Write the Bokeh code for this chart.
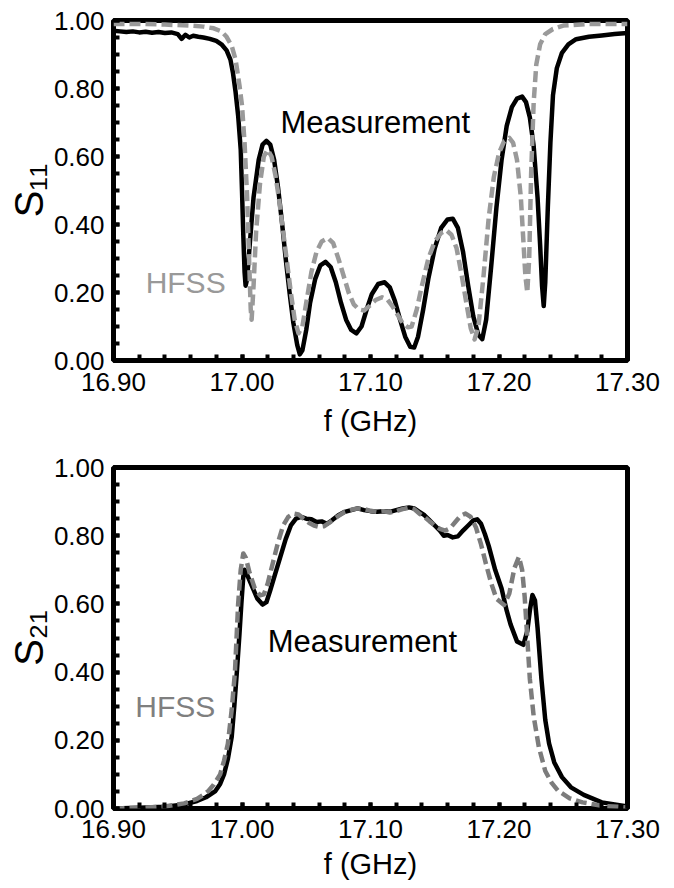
from bokeh.plotting import figure
from bokeh.layouts import column
from bokeh.models import Label, FixedTicker, PrintfTickFormatter, Range1d
from bokeh.embed import file_html
from bokeh.resources import INLINE

FONT = "Liberation Sans"

# ---------------- data ----------------
x_major = [16.90, 17.00, 17.10, 17.20, 17.30]
y_major = [0.0, 0.2, 0.4, 0.6, 0.8, 1.0]

s11_meas_f = [16.900, 16.905, 16.910, 16.915, 16.920, 16.925, 16.930, 16.935, 16.940, 16.945,
              16.950, 16.953, 16.956, 16.959, 16.962, 16.966, 16.970, 16.975, 16.980, 16.984,
              16.988, 16.991, 16.993, 16.995, 16.997, 16.999, 17.000, 17.001, 17.002, 17.0028,
              17.004, 17.006, 17.009, 17.013, 17.016, 17.019, 17.022, 17.025, 17.028, 17.031,
              17.034, 17.037, 17.040, 17.043, 17.045, 17.047, 17.050, 17.053, 17.057, 17.061,
              17.065, 17.069, 17.073, 17.077, 17.081, 17.085, 17.089, 17.093, 17.097, 17.101,
              17.106, 17.111, 17.115, 17.119, 17.123, 17.127, 17.131, 17.134, 17.137, 17.141,
              17.145, 17.150, 17.155, 17.160, 17.164, 17.168, 17.172, 17.176, 17.180, 17.184,
              17.187, 17.190, 17.194, 17.198, 17.202, 17.206, 17.210, 17.214, 17.218, 17.221,
              17.224, 17.227, 17.230, 17.232, 17.2335, 17.2348, 17.236, 17.238, 17.240, 17.242,
              17.245, 17.249, 17.254, 17.260, 17.270, 17.280, 17.290, 17.300]
s11_meas = [0.970, 0.968, 0.966, 0.968, 0.965, 0.967, 0.964, 0.966, 0.963, 0.965,
            0.960, 0.946, 0.958, 0.950, 0.955, 0.952, 0.950, 0.946, 0.940, 0.930,
            0.912, 0.885, 0.845, 0.790, 0.720, 0.620, 0.500, 0.370, 0.260, 0.220,
            0.240, 0.340, 0.480, 0.590, 0.635, 0.646, 0.635, 0.590, 0.510, 0.410,
            0.300, 0.200, 0.110, 0.045, 0.018, 0.030, 0.090, 0.170, 0.240, 0.280,
            0.290, 0.275, 0.230, 0.170, 0.120, 0.090, 0.080, 0.100, 0.150, 0.195,
            0.225, 0.230, 0.215, 0.175, 0.120, 0.070, 0.040, 0.038, 0.070, 0.150,
            0.240, 0.330, 0.390, 0.415, 0.417, 0.390, 0.320, 0.220, 0.130, 0.075,
            0.063, 0.120, 0.280, 0.450, 0.590, 0.690, 0.745, 0.770, 0.776, 0.760,
            0.715, 0.630, 0.480, 0.340, 0.220, 0.160, 0.230, 0.450, 0.640, 0.780,
            0.860, 0.905, 0.930, 0.945, 0.952, 0.956, 0.960, 0.963]

s11_hfss_f = [16.900, 16.920, 16.940, 16.960, 16.970, 16.978, 16.984, 16.988, 16.992, 16.995,
              16.998, 17.000, 17.002, 17.004, 17.0055, 17.0068, 17.0075, 17.009, 17.011, 17.014,
              17.017, 17.020, 17.023, 17.026, 17.029, 17.032, 17.035, 17.038, 17.041, 17.044,
              17.047, 17.050, 17.054, 17.058, 17.062, 17.067, 17.071, 17.075, 17.079, 17.083,
              17.087, 17.091, 17.095, 17.099, 17.104, 17.109, 17.113, 17.117, 17.121, 17.125,
              17.129, 17.132, 17.136, 17.140, 17.145, 17.150, 17.155, 17.159, 17.163, 17.167,
              17.171, 17.175, 17.178, 17.181, 17.184, 17.188, 17.192, 17.196, 17.200, 17.204,
              17.208, 17.211, 17.214, 17.217, 17.219, 17.2205, 17.222, 17.2235, 17.225, 17.227,
              17.229, 17.232, 17.236, 17.242, 17.250, 17.270, 17.300]
s11_hfss = [0.990, 0.990, 0.988, 0.985, 0.982, 0.977, 0.968, 0.952, 0.925, 0.885,
            0.810, 0.750, 0.640, 0.480, 0.300, 0.150, 0.120, 0.220, 0.380, 0.520,
            0.600, 0.620, 0.600, 0.545, 0.470, 0.380, 0.290, 0.200, 0.120, 0.080,
            0.100, 0.170, 0.260, 0.320, 0.350, 0.360, 0.345, 0.300, 0.250, 0.200,
            0.165, 0.150, 0.147, 0.160, 0.178, 0.186, 0.180, 0.160, 0.135, 0.110,
            0.098, 0.100, 0.150, 0.220, 0.300, 0.350, 0.375, 0.383, 0.370, 0.330,
            0.250, 0.160, 0.095, 0.062, 0.100, 0.250, 0.420, 0.540, 0.610, 0.645,
            0.655, 0.640, 0.590, 0.480, 0.350, 0.250, 0.200, 0.300, 0.550, 0.760,
            0.870, 0.930, 0.960, 0.975, 0.985, 0.990, 0.990]

s21_meas_f = [16.900, 16.920, 16.940, 16.955, 16.965, 16.972, 16.979, 16.983, 16.986, 16.989,
              16.992, 16.994, 16.996, 16.998, 16.9995, 17.001, 17.002, 17.004, 17.008, 17.012,
              17.016, 17.019, 17.022, 17.026, 17.030, 17.034, 17.038, 17.042, 17.046, 17.050,
              17.054, 17.058, 17.062, 17.066, 17.070, 17.075, 17.080, 17.085, 17.090, 17.095,
              17.100, 17.105, 17.110, 17.115, 17.120, 17.125, 17.130, 17.134, 17.138, 17.142,
              17.146, 17.150, 17.154, 17.157, 17.160, 17.164, 17.168, 17.172, 17.176, 17.180,
              17.183, 17.186, 17.189, 17.192, 17.197, 17.202, 17.206, 17.209, 17.214, 17.219,
              17.222, 17.224, 17.226, 17.228, 17.230, 17.233, 17.236, 17.239, 17.243, 17.249,
              17.256, 17.266, 17.280, 17.300]
s21_meas = [0.000, 0.002, 0.005, 0.012, 0.022, 0.033, 0.050, 0.072, 0.100, 0.145,
            0.210, 0.300, 0.400, 0.510, 0.600, 0.680, 0.700, 0.685, 0.650, 0.615,
            0.598, 0.605, 0.640, 0.690, 0.740, 0.790, 0.830, 0.850, 0.855, 0.850,
            0.848, 0.840, 0.842, 0.835, 0.845, 0.860, 0.870, 0.875, 0.880, 0.875,
            0.872, 0.870, 0.872, 0.870, 0.875, 0.880, 0.883, 0.880, 0.870, 0.860,
            0.845, 0.830, 0.815, 0.800, 0.802, 0.795, 0.798, 0.815, 0.830, 0.845,
            0.848, 0.835, 0.805, 0.770, 0.700, 0.645, 0.580, 0.540, 0.490, 0.480,
            0.520, 0.580, 0.626, 0.610, 0.530, 0.380, 0.260, 0.190, 0.135, 0.092,
            0.062, 0.040, 0.018, 0.006]

s21_hfss_f = [16.900, 16.920, 16.940, 16.955, 16.965, 16.970, 16.974, 16.978, 16.983, 16.986,
              16.989, 16.992, 16.9945, 16.997, 16.999, 17.001, 17.003, 17.006, 17.010, 17.014,
              17.017, 17.020, 17.024, 17.028, 17.032, 17.036, 17.040, 17.044, 17.048, 17.052,
              17.056, 17.060, 17.064, 17.068, 17.072, 17.076, 17.080, 17.085, 17.090, 17.095,
              17.100, 17.105, 17.110, 17.115, 17.120, 17.125, 17.130, 17.134, 17.138, 17.142,
              17.146, 17.150, 17.154, 17.158, 17.162, 17.166, 17.170, 17.174, 17.178, 17.182,
              17.186, 17.190, 17.194, 17.198, 17.204, 17.208, 17.212, 17.2155, 17.218, 17.220,
              17.222, 17.224, 17.227, 17.231, 17.236, 17.241, 17.246, 17.255, 17.265, 17.280,
              17.300]
s21_hfss = [0.000, 0.002, 0.006, 0.015, 0.028, 0.040, 0.052, 0.070, 0.100, 0.140,
            0.190, 0.290, 0.400, 0.600, 0.700, 0.748, 0.735, 0.690, 0.645, 0.625,
            0.628, 0.660, 0.720, 0.780, 0.830, 0.855, 0.865, 0.862, 0.850, 0.838,
            0.830, 0.826, 0.828, 0.838, 0.850, 0.860, 0.870, 0.876, 0.880, 0.878,
            0.873, 0.870, 0.872, 0.868, 0.872, 0.878, 0.882, 0.878, 0.865, 0.855,
            0.842, 0.830, 0.820, 0.815, 0.822, 0.840, 0.858, 0.865, 0.855, 0.825,
            0.775, 0.715, 0.660, 0.615, 0.597, 0.630, 0.705, 0.738, 0.700, 0.620,
            0.500, 0.380, 0.270, 0.180, 0.110, 0.075, 0.052, 0.030, 0.018, 0.008,
            0.003]

text_meas = "Measurement"
text_hfss = "HFSS"
ylabel_top = "S\u2081\u2081"
ylabel_bottom = "S\u2082\u2081"


def make_fig(border_top, border_bottom, frame_h, ylabel, tick_standoff, label_standoff):
    p = figure(frame_width=514, frame_height=frame_h,
               x_range=Range1d(16.9, 17.3), y_range=Range1d(0, 1),
               output_backend="svg", toolbar_location=None,
               min_border_left=113, min_border_right=34,
               min_border_top=border_top, min_border_bottom=border_bottom,
               background_fill_color="white", border_fill_color="white")
    p.grid.visible = False
    p.outline_line_color = "black"
    p.outline_line_width = 5
    p.outline_line_alpha = 1.0

    x_minor = [round(16.90 + 0.02 * i, 2) for i in range(21)]
    y_minor = [round(0.05 * i, 2) for i in range(21)]
    p.xaxis.ticker = FixedTicker(ticks=x_major, minor_ticks=x_minor)
    p.yaxis.ticker = FixedTicker(ticks=y_major, minor_ticks=y_minor)
    for ax in (p.xaxis, p.yaxis):
        ax.formatter = PrintfTickFormatter(format="%.2f")
        ax.axis_line_color = None
        ax.major_tick_in = 6
        ax.major_tick_out = 0
        ax.minor_tick_in = 6
        ax.minor_tick_out = 0
        ax.major_tick_line_width = 4
        ax.minor_tick_line_width = 4
        ax.major_tick_line_color = "black"
        ax.minor_tick_line_color = "black"
        ax.major_label_text_font = FONT
        ax.major_label_text_font_size = "26px"
        ax.major_label_text_color = "black"
    p.xaxis.major_label_standoff = tick_standoff
    p.yaxis.major_label_standoff = 9
    p.xaxis.axis_label = "f (GHz)"
    p.xaxis.axis_label_text_font = FONT
    p.xaxis.axis_label_text_font_size = "29px"
    p.xaxis.axis_label_text_font_style = "normal"
    p.xaxis.axis_label_text_color = "black"
    p.xaxis.axis_label_standoff = label_standoff
    p.yaxis.axis_label = ylabel
    p.yaxis.axis_label_text_font = FONT
    p.yaxis.axis_label_text_font_size = "40px"
    p.yaxis.axis_label_text_font_style = "normal"
    p.yaxis.axis_label_text_color = "black"
    p.yaxis.axis_label_standoff = 0
    return p


# ---------------- top: S11 ----------------
p1 = make_fig(20, 84, 340, ylabel_top, 12, 11)
p1.line(s11_meas_f, s11_meas, line_color="black", line_width=4.5, line_join="round")
p1.line(s11_hfss_f, s11_hfss, line_color="#9a9a9a", line_width=4.5, line_dash="11 5",
        line_join="round")
p1.add_layout(Label(x=17.03, y=0.70, text=text_meas, text_align="left", text_baseline="middle",
                    text_font=FONT, text_font_size="31px", text_color="black"))
p1.add_layout(Label(x=16.925, y=0.23, text=text_hfss, text_align="left", text_baseline="middle",
                    text_font=FONT, text_font_size="30px", text_color="#999999"))

# ---------------- bottom: S21 ----------------
p2 = make_fig(23, 76, 341, ylabel_bottom, 11, 7)
p2.line(s21_meas_f, s21_meas, line_color="black", line_width=4.5, line_join="round")
p2.line(s21_hfss_f, s21_hfss, line_color="#7c7c7c", line_width=4.5, line_dash="11 5",
        line_join="round")
p2.add_layout(Label(x=17.02, y=0.49, text=text_meas, text_align="left", text_baseline="middle",
                    text_font=FONT, text_font_size="31px", text_color="black"))
p2.add_layout(Label(x=16.917, y=0.30, text=text_hfss, text_align="left", text_baseline="middle",
                    text_font=FONT, text_font_size="30px", text_color="#7f7f7f"))

layout = column(p1, p2, spacing=0)
open("out.html", "w").write(file_html(layout, INLINE))
